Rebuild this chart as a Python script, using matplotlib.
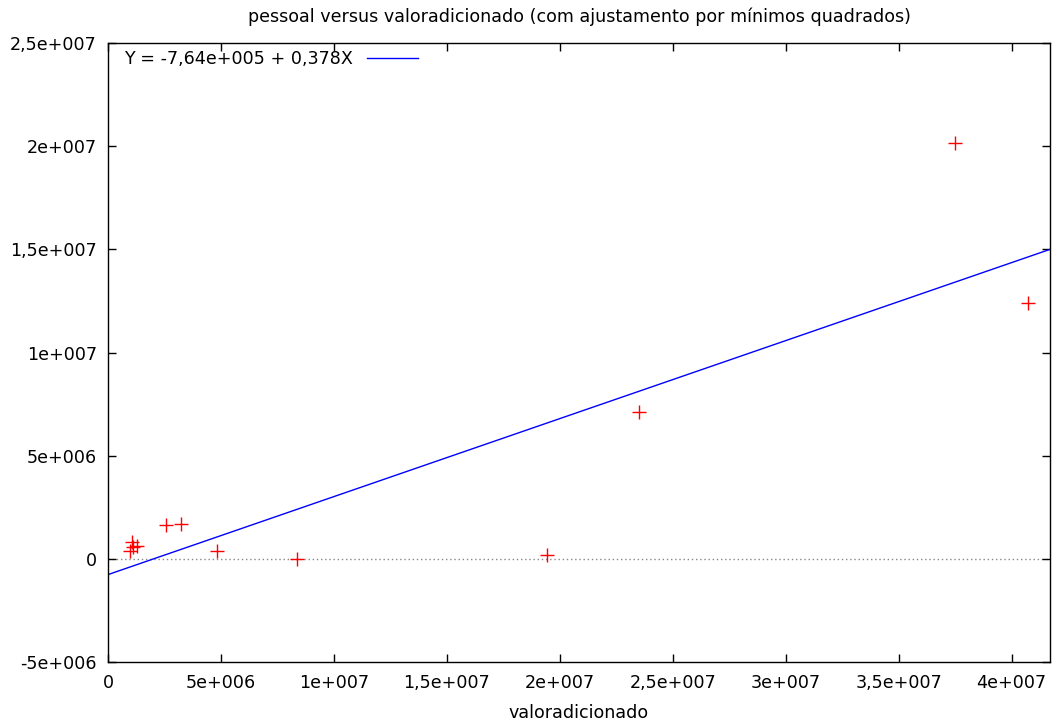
import matplotlib
matplotlib.use("Agg")
import matplotlib.pyplot as plt
from matplotlib.ticker import FuncFormatter, MultipleLocator

# valoradicionado (x) and pessoal (y) observations
valoradicionado = [37.48e6, 40.71e6, 23.50e6, 19.42e6, 8.36e6, 4.82e6,
                   2.57e6, 3.23e6, 1.06e6, 1.28e6, 0.97e6, 1.11e6]
pessoal = [20.16e6, 12.41e6, 7.13e6, 0.19e6, 0.0, 0.39e6,
           1.65e6, 1.70e6, 0.82e6, 0.63e6, 0.39e6, 0.58e6]

# least-squares fit coefficients
intercepto = -7.64e5
inclinacao = 0.378
legenda = "Y = -7,64e+005 + 0,378X"

x_lim = (0, 41.7e6)
y_lim = (-5e6, 25e6)


def gnuplot_fmt(v, pos=None):
    if v == 0:
        return "0"
    s = "%e" % v
    mant, exp = s.split("e")
    mant = "%g" % float(mant)
    sign = exp[0]
    digits = exp[1:].lstrip("0") or "0"
    return mant.replace(".", ",") + "e" + sign + digits.zfill(3)


FS = 12.6
plt.rcParams["font.family"] = ["DejaVu Sans"]
fig = plt.figure(figsize=(10.61, 7.24), dpi=100)
ax = fig.add_axes([108 / 1061, 1 - 662 / 724, (1050 - 108) / 1061, (662 - 43) / 724])

ax.axhline(0, color="#888888", linestyle=(0, (1, 2)), linewidth=1.0, zorder=1)
ax.plot(valoradicionado, pessoal, linestyle="none", marker="+", color="red",
        markersize=10, markeredgewidth=1.0, zorder=3)
ax.plot(list(x_lim), [intercepto + inclinacao * x for x in x_lim],
        color="blue", linewidth=1.0, label=legenda, zorder=2)

ax.set_xlim(*x_lim)
ax.set_ylim(*y_lim)
ax.xaxis.set_major_locator(MultipleLocator(5e6))
ax.yaxis.set_major_locator(MultipleLocator(5e6))
ax.xaxis.set_major_formatter(FuncFormatter(gnuplot_fmt))
ax.yaxis.set_major_formatter(FuncFormatter(gnuplot_fmt))
ax.tick_params(direction="in", length=6, width=1, top=True, right=True,
               labelsize=FS, colors="black")
ax.tick_params(axis="y", pad=8)
ax.tick_params(axis="x", pad=9)
for sp in ax.spines.values():
    sp.set_linewidth(1.0)

ax.set_title("pessoal versus valoradicionado (com ajustamento por mínimos quadrados)",
             fontsize=FS, pad=15)
ax.set_xlabel("valoradicionado", fontsize=FS, labelpad=8)

ax.legend(loc="upper left", bbox_to_anchor=(0.006, 1.006), frameon=False,
          markerfirst=False, fontsize=FS, handlelength=2.9,
          borderaxespad=0.3, borderpad=0.3, handletextpad=0.8)

fig.savefig("out.png", dpi=100)
